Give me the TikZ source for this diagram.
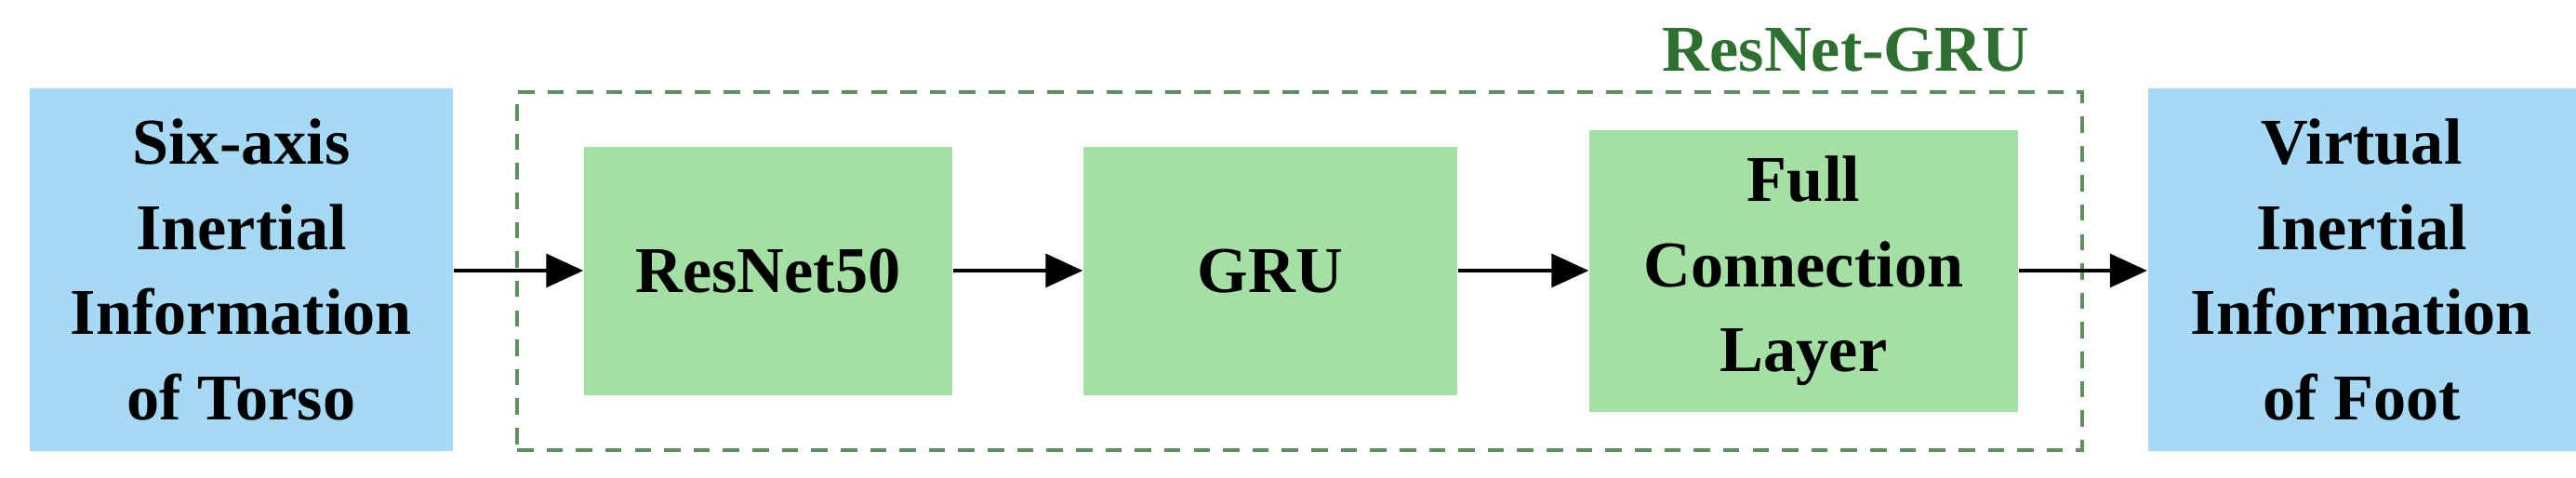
\documentclass[tikz,border=0pt]{standalone}
\usepackage{fontspec}
\setmainfont{Liberation Serif}
\usetikzlibrary{arrows.meta}
\definecolor{inblue}{HTML}{A6DAF4}
\definecolor{netgreen}{HTML}{A4E0A4}
\definecolor{boxgreen}{HTML}{5E8F5E}
\definecolor{titlegreen}{HTML}{2E7030}
\begin{document}
\begin{tikzpicture}[x=1cm, y=1cm,
  io/.style={fill=inblue, minimum width=4.55cm, minimum height=3.9cm, align=center, inner sep=0pt, font=\fontsize{20}{26}\selectfont\bfseries},
  net/.style={fill=netgreen, minimum height=2.67cm, align=center, inner sep=0pt, font=\fontsize{20}{26}\selectfont\bfseries},
  flow/.style={-{Triangle[length=4mm, width=3.6mm]}, line width=0.9pt}]
\useasboundingbox (0,0) rectangle (27.7,5.14);
\node (frame) at (13.975, 2.225) [draw=boxgreen, dashed, line width=0.9pt, dash pattern=on 5pt off 4pt, minimum width=16.83cm, minimum height=3.85cm] {};
\node (title) at (19.85, 4.6) [text=titlegreen, font=\fontsize{20}{24}\selectfont\bfseries] {ResNet-GRU};
\node (torso) at (2.595, 2.24) [io] {Six-axis\\Inertial\\Information\\of Torso};
\node (resnet) at (8.26, 2.225) [net, minimum width=3.96cm] {ResNet50};
\node (gru) at (13.66, 2.225) [net, minimum width=4.02cm] {GRU};
\node (fcl) at (19.395, 2.225) [net, minimum width=4.61cm, minimum height=3.03cm] {Full\\Connection\\Layer};
\node (foot) at (25.395, 2.24) [io, minimum width=4.6cm] {Virtual\\Inertial\\Information\\of Foot};
\draw [flow] (torso.east |- 0,2.23) -- (resnet.west |- 0,2.23);
\draw [flow] (resnet.east |- 0,2.23) -- (gru.west |- 0,2.23);
\draw [flow] (gru.east |- 0,2.23) -- (fcl.west |- 0,2.23);
\draw [flow] (fcl.east |- 0,2.23) -- (foot.west |- 0,2.23);
\end{tikzpicture}
\end{document}
